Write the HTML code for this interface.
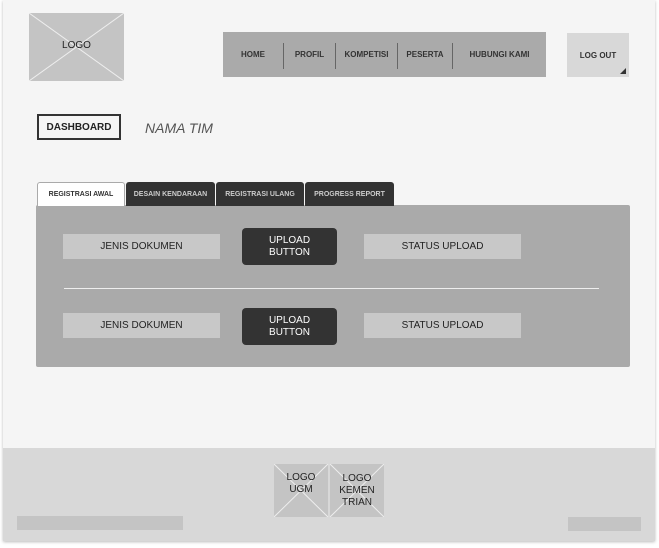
<!DOCTYPE html>
<html><head><style>
body{margin:0;width:659px;height:548px;background:#fff;position:relative;overflow:hidden;font-family:"Liberation Sans",sans-serif}
div{position:absolute;box-sizing:border-box}
.c{display:flex;align-items:center;justify-content:center;text-align:center}
.n{font-size:8px;font-weight:bold;color:#333;top:32px;height:45px}
.sep{width:1px;background:#666;top:43px;height:26px}
.tab{top:182px;height:24px;font-size:7px;font-weight:bold;border-radius:3px 3px 0 0;color:#ccc;background:#333}
.box{background:#c8c8c8;font-size:10px;color:#222;height:25px}
.btn{background:#333;color:#fff;font-size:10px;border-radius:4px;width:95px;height:37px;left:242px;line-height:12px}
</style></head><body>
<div style="left:3px;top:0;width:652px;height:541px;background:#f5f5f5;box-shadow:0 1px 3px #bbb"></div>
<svg style="position:absolute;left:29px;top:13px" width="95" height="68"><rect width="95" height="68" fill="#c4c4c4"/><line x1="0" y1="0" x2="95" y2="68" stroke="#eee"/><line x1="95" y1="0" x2="0" y2="68" stroke="#eee"/></svg>
<div class="c" style="left:29px;top:13px;width:95px;height:68px;font-size:10px;color:#222;padding-bottom:4px">LOGO</div>
<div style="left:223px;top:32px;width:323px;height:45px;background:#aaa"></div>
<div class="c n" style="left:223px;width:60px">HOME</div>
<div class="sep" style="left:283px"></div>
<div class="c n" style="left:284px;width:51px">PROFIL</div>
<div class="sep" style="left:335px"></div>
<div class="c n" style="left:336px;width:61px">KOMPETISI</div>
<div class="sep" style="left:397px"></div>
<div class="c n" style="left:398px;width:54px">PESERTA</div>
<div class="sep" style="left:452px"></div>
<div class="c n" style="left:453px;width:93px">HUBUNGI KAMI</div>
<div class="c n" style="left:567px;width:62px;top:33px;height:44px;background:#d8d8d8">LOG OUT</div>
<div style="left:620px;top:68px;width:0;height:0;border-left:6px solid transparent;border-bottom:6px solid #333"></div>
<div class="c" style="left:37px;top:114px;width:84px;height:26px;border:2px solid #333;font-size:10px;font-weight:bold;color:#222">DASHBOARD</div>
<div style="left:145px;top:120px;font-size:14px;font-style:italic;color:#555">NAMA TIM</div>
<div style="left:36px;top:205px;width:594px;height:162px;background:#aaa;border-radius:2px"></div>
<div class="c tab" style="left:37px;width:88px;background:#fff;color:#333;border:1px solid #aaa;border-bottom:none">REGISTRASI AWAL</div>
<div class="c tab" style="left:126px;width:89px">DESAIN KENDARAAN</div>
<div class="c tab" style="left:216px;width:88px">REGISTRASI ULANG</div>
<div class="c tab" style="left:305px;width:89px">PROGRESS REPORT</div>
<div class="c box" style="left:63px;top:234px;width:157px">JENIS DOKUMEN</div>
<div class="c btn" style="top:228px">UPLOAD<br>BUTTON</div>
<div class="c box" style="left:364px;top:234px;width:157px">STATUS UPLOAD</div>
<div style="left:64px;top:288px;width:535px;height:1px;background:#eee"></div>
<div class="c box" style="left:63px;top:313px;width:157px">JENIS DOKUMEN</div>
<div class="c btn" style="top:308px">UPLOAD<br>BUTTON</div>
<div class="c box" style="left:364px;top:313px;width:157px">STATUS UPLOAD</div>
<div style="left:3px;top:448px;width:652px;height:93px;background:#d8d8d8"></div>
<svg style="position:absolute;left:274px;top:464px" width="110" height="53"><rect width="54" height="53" fill="#c4c4c4"/><rect x="56" width="54" height="53" fill="#c4c4c4"/><g stroke="#eee"><line x1="0" y1="0" x2="54" y2="53"/><line x1="54" y1="0" x2="0" y2="53"/><line x1="56" y1="0" x2="110" y2="53"/><line x1="110" y1="0" x2="56" y2="53"/></g></svg>
<div class="c" style="left:274px;top:464px;width:54px;height:40px;font-size:10px;line-height:12px;color:#222">LOGO<br>UGM</div>
<div class="c" style="left:330px;top:464px;width:54px;height:53px;font-size:10px;line-height:12px;color:#222">LOGO<br>KEMEN<br>TRIAN</div>
<div style="left:17px;top:516px;width:166px;height:14px;background:#c4c4c4"></div>
<div style="left:568px;top:517px;width:73px;height:14px;background:#c4c4c4"></div>
</body></html>
